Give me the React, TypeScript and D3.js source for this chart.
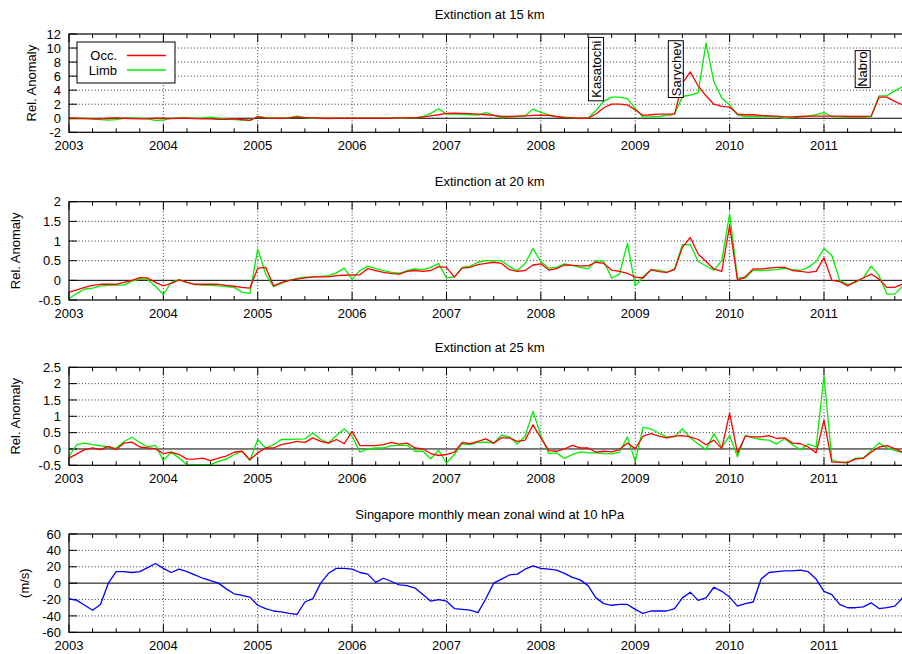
import React from 'react';
import * as d3 from 'd3';

const W = 902;
const H = 654;
const FONT = "'Liberation Sans', Arial, Helvetica, sans-serif";

const startYear = 2003;
const nMonths = 107;
const months = d3.range(nMonths).map((i) => startYear + i / 12);
const yearTicks = d3.range(2003, 2012);
const quarterTicks = d3.range(0, 36).map((i) => 2003 + i / 4).filter((v) => v % 1 !== 0);

// Extinction at 15 km
const occ15 = [0, 0, -0.05, -0.1, -0.1, 0, 0.05, 0, -0.05, -0.1, -0.05, 0, 0, -0.05, 0, 0, -0.05, -0.1, -0.1, -0.15, -0.15, -0.1, -0.2, -0.3, 0.2, 0.05, 0, 0, 0.05, 0.15,
  0.1, 0.05, 0, 0, 0, 0, 0, 0, 0, 0, 0, 0, 0.05, 0.05, 0.05,
  0.15, 0.35, 0.5, 0.7, 0.72, 0.7, 0.65, 0.6, 0.5, 0.4, 0.25, 0.25, 0.3, 0.35, 0.4, 0.45, 0.4, 0.25, 0.1, 0.05, 0, 0,
  0.6, 1.5, 2.0, 2.0, 1.9, 1.2, 0.4, 0.5, 0.6, 0.6, 0.6, 5.0, 6.6, 4.6, 3.2, 2.0, 1.7, 1.6, 0.6, 0.5,
  0.5, 0.4, 0.35, 0.3, 0.2, 0.2, 0.25, 0.3, 0.3, 0.3, 0.3, 0.3, 0.25, 0.25, 0.25, 0.3, 3.0, 3.0, 2.4, 1.9];
const limb15 = [-0.1, -0.1, 0, -0.1, -0.2, -0.25, -0.2, 0, 0.05, 0, -0.1, -0.3, -0.25, 0, 0, 0.05, 0, 0.05, 0.15, 0, -0.1, -0.2, -0.25, -0.3, 0.25, 0.1, 0.05, 0, 0.1, 0.3,
  0.1, 0, 0, -0.05, 0, 0, 0, 0, 0, 0, 0, 0, 0, 0.05, 0.05,
  0.25, 0.7, 1.33, 0.6, 0.6, 0.57, 0.5, 0.45, 0.8, 0.45, 0.05, 0.2, 0.25, 0.35, 1.3, 0.85, 0.5, 0.2, 0.15, 0.1, 0, 0,
  1.1, 2.4, 3.0, 3.0, 2.8, 1.4, 0.15, 0.2, 0.25, 0.4, 0.6, 3.1, 3.3, 3.6, 10.7, 5.2, 2.9, 1.9, 0.5, 0.25,
  0.25, 0.25, 0.25, 0.2, 0, 0.1, 0.2, 0.3, 0.5, 0.8, 0.25, 0.15, 0.15, 0.15, 0.15, 0.25, 3.2, 3.2, 3.9, 4.5];

// Extinction at 20 km
const occ20 = [-0.3, -0.24, -0.18, -0.13, -0.1, -0.1, -0.1, -0.05, 0, 0.07, 0.06, -0.05, -0.14, -0.08, 0.01, -0.05, -0.1, -0.1, -0.1, -0.1, -0.13, -0.15, -0.18, -0.2, 0.31, 0.33, -0.14, -0.06, 0, 0.03,
  0.06, 0.09, 0.09, 0.09, 0.12, 0.13, 0.14, 0.14, 0.3, 0.25, 0.2, 0.17, 0.16, 0.23, 0.25, 0.23, 0.25, 0.35, 0.33, 0.08, 0.31, 0.33, 0.4, 0.43, 0.46, 0.43, 0.27, 0.23, 0.25, 0.39,
  0.42, 0.26, 0.3, 0.39, 0.38, 0.37, 0.37, 0.46, 0.43, 0.26, 0.23, 0.18, 0.08, 0.06, 0.27, 0.22, 0.2, 0.27, 0.84, 1.09, 0.67, 0.48, 0.29, 0.23, 1.39, 0.0, 0.09, 0.29, 0.29, 0.31,
  0.33, 0.33, 0.25, 0.23, 0.2, 0.23, 0.57, 0.0, -0.03, -0.14, -0.03, 0.06, 0.16, 0.03, -0.18, -0.18, -0.09];
const limb20 = [-0.47, -0.33, -0.22, -0.2, -0.14, -0.13, -0.12, -0.12, -0.02, 0.03, 0.02, -0.15, -0.36, -0.05, 0.02, -0.05, -0.11, -0.12, -0.13, -0.14, -0.16, -0.18, -0.3, -0.33, 0.8, 0.16, -0.16, -0.08, 0, 0.05,
  0.08, 0.08, 0.1, 0.12, 0.19, 0.31, 0.03, 0.25, 0.36, 0.3, 0.25, 0.2, 0.18, 0.25, 0.29, 0.27, 0.33, 0.43, 0.06, 0.09, 0.33, 0.36, 0.46, 0.5, 0.5, 0.5, 0.35, 0.25, 0.43, 0.81,
  0.48, 0.31, 0.33, 0.42, 0.38, 0.33, 0.29, 0.5, 0.48, 0.06, 0.16, 0.94, -0.14, 0.09, 0.27, 0.26, 0.2, 0.29, 0.91, 0.91, 0.48, 0.37, 0.26, 0.5, 1.69, 0.06, 0.06, 0.26, 0.25, 0.26,
  0.27, 0.31, 0.27, 0.25, 0.33, 0.48, 0.81, 0.63, 0.0, -0.11, -0.05, 0.06, 0.36, 0.12, -0.35, -0.35, -0.15];

// Extinction at 25 km
const occ25 = [-0.28, -0.15, -0.02, 0.03, -0.02, 0.08, -0.02, 0.18, 0.21, 0.06, 0.03, 0.01, -0.14, -0.1, -0.17, -0.31, -0.31, -0.28, -0.36, -0.28, -0.22, -0.1, -0.07, -0.33, -0.12, 0.03, 0.03, 0.13, 0.18, 0.23,
  0.2, 0.34, 0.23, 0.18, 0.29, 0.16, 0.54, 0.1, 0.1, 0.1, 0.13, 0.2, 0.15, 0.18, 0.03, 0.0, -0.14, -0.2, -0.17, -0.1, 0.2, 0.16, 0.23, 0.31, 0.18, 0.34, 0.34, 0.23, 0.27, 0.74,
  0.34, -0.05, -0.07, 0.0, 0.11, 0.03, 0.03, -0.1, -0.07, -0.09, -0.02, 0.18, 0.01, 0.39, 0.47, 0.39, 0.34, 0.39, 0.41, 0.37, 0.29, 0.13, 0.27, 0.01, 1.1, -0.12, 0.39, 0.37, 0.37, 0.41,
  0.32, 0.34, 0.18, 0.16, 0.06, -0.12, 0.88, -0.4, -0.4, -0.41, -0.31, -0.28, -0.1, 0.06, 0.1, 0.01, -0.1];
const limb25 = [-0.22, 0.13, 0.18, 0.13, 0.1, 0.06, 0.02, 0.23, 0.36, 0.2, 0.06, 0.11, -0.35, -0.1, -0.28, -0.48, -0.49, -0.49, -0.48, -0.38, -0.31, -0.17, -0.07, -0.35, 0.29, 0.03, 0.13, 0.29, 0.29, 0.3,
  0.31, 0.49, 0.29, 0.18, 0.41, 0.61, 0.39, -0.1, 0.0, 0.03, 0.03, 0.1, 0.11, 0.11, -0.07, -0.07, -0.3, -0.04, -0.43, -0.17, 0.16, 0.13, 0.2, 0.21, 0.18, 0.42, 0.37, 0.15, 0.39, 1.15,
  0.41, -0.14, -0.12, -0.29, -0.17, -0.09, -0.12, -0.12, -0.14, -0.15, -0.1, 0.37, -0.38, 0.67, 0.61, 0.49, 0.37, 0.37, 0.62, 0.34, 0.15, -0.02, 0.47, 0.06, 0.41, -0.24, 0.41, 0.34, 0.29, 0.27,
  0.15, 0.32, 0.13, -0.02, 0.15, 0.06, 2.24, -0.33, -0.41, -0.43, -0.28, -0.28, -0.05, 0.18, 0.03, -0.04, -0.12];

// Singapore monthly mean zonal wind at 10 hPa (m/s)
const wind = [-19, -21, -27, -33, -26, 0, 14, 14, 13, 14, 19, 24, 18, 13, 17, 14, 10, 6, 3, 0, -7, -13, -15, -17, -27, -31, -34, -35, -37, -38,
  -23, -19, 0, 12, 18, 18, 17, 13, 11, 1, 6, 2, -2, -3, -6, -14, -22, -20, -22, -31, -32, -33, -36, -19, 0, 5, 10, 11, 17, 21,
  18, 17, 16, 12, 7, 4, -3, -18, -25, -27, -26, -26, -32, -37, -34, -34, -34, -31, -18, -11, -21, -18, -5, -10, -17, -28, -25, -23, 5, 13,
  14, 15, 15, 16, 14, 5, -10, -14, -26, -30, -30, -29, -24, -31, -30, -28, -18];

const ticks15 = [-2, 0, 2, 4, 6, 8, 10, 12];
const ticks20 = [-0.5, 0, 0.5, 1, 1.5, 2];
const ticks25 = [-0.5, 0, 0.5, 1, 1.5, 2, 2.5];
const ticksWind = [-60, -40, -20, 0, 20, 40, 60];

const volcanoNames = ['Kasatochi', 'Sarychev', 'Nabro'];
const volcanoTimes = [2008.585, 2009.43, 2011.41];

const legendNames = ['Occ.', 'Limb'];
const RED = '#ff0000';
const GREEN = '#00ee00';
const BLUE = '#0000ff';

const x = d3.scaleLinear().domain([startYear, startYear + nMonths / 12]).range([69, 910.5]);
const XL = 69;
const XR = 910.5;

type Series = { values: number[]; color: string };
type PanelProps = {
  id: string;
  top: number;
  bottom: number;
  ticks: number[];
  title: string;
  ylabel: string;
  ylabelX: number;
  series: Series[];
  children?: React.ReactNode;
};

function Panel({ id, top, bottom, ticks, title, ylabel, ylabelX, series, children }: PanelProps) {
  const y = d3.scaleLinear().domain([ticks[0], ticks[ticks.length - 1]]).range([bottom, top]);
  const line = d3.line<number>().x((_, i) => x(months[i])).y((d) => y(d));
  const midY = (top + bottom) / 2;
  return (
    <g>
      <defs>
        <clipPath id={`clip-${id}`}>
          <rect x={XL} y={top} width={XR - XL} height={bottom - top} />
        </clipPath>
      </defs>
      <text x={(XL + XR) / 2} y={top - 15.5} textAnchor="middle" fontSize={13} fontFamily={FONT} fill="#000">{title}</text>
      {/* grid */}
      {ticks.filter((t) => t !== 0 && t !== ticks[0] && t !== ticks[ticks.length - 1]).map((t) => (
        <line key={`gy${t}`} x1={XL} x2={XR} y1={y(t)} y2={y(t)} stroke="#333" strokeWidth={1} strokeDasharray="1,2.2" />
      ))}
      {yearTicks.filter((t) => t !== 2003).map((t) => (
        <line key={`gx${t}`} x1={x(t)} x2={x(t)} y1={top} y2={bottom} stroke="#333" strokeWidth={1} strokeDasharray="1,2.2" />
      ))}
      <line x1={XL} x2={XR} y1={y(0)} y2={y(0)} stroke="#000" strokeWidth={1} />
      {/* ticks */}
      {yearTicks.map((t) => (
        <g key={`tx${t}`}>
          <line x1={x(t)} x2={x(t)} y1={top} y2={top + 8} stroke="#000" />
          <line x1={x(t)} x2={x(t)} y1={bottom} y2={bottom - 8} stroke="#000" />
        </g>
      ))}
      {quarterTicks.map((t) => (
        <g key={`qx${t}`}>
          <line x1={x(t)} x2={x(t)} y1={top} y2={top + 4} stroke="#000" />
          <line x1={x(t)} x2={x(t)} y1={bottom} y2={bottom - 4} stroke="#000" />
        </g>
      ))}
      {ticks.map((t) => (
        <g key={`ty${t}`}>
          <line x1={XL} x2={XL + 8} y1={y(t)} y2={y(t)} stroke="#000" />
          <line x1={XR} x2={XR - 8} y1={y(t)} y2={y(t)} stroke="#000" />
          <text x={61} y={y(t)} dy="0.36em" textAnchor="end" fontSize={13} fontFamily={FONT} fill="#000">{String(t)}</text>
        </g>
      ))}
      {/* data */}
      <g clipPath={`url(#clip-${id})`}>
        {series.map((s, i) => (
          <path key={i} d={line(s.values) || ''} fill="none" stroke={s.color} strokeWidth={1.3} strokeLinejoin="round" />
        ))}
      </g>
      <rect x={XL} y={top} width={XR - XL} height={bottom - top} fill="none" stroke="#000" strokeWidth={1.2} />
      {yearTicks.map((t) => (
        <text key={`lx${t}`} x={x(t)} y={bottom + 18} textAnchor="middle" fontSize={13} fontFamily={FONT} fill="#000">{String(t)}</text>
      ))}
      <text transform={`translate(${ylabelX},${midY}) rotate(-90)`} dy="0.36em" textAnchor="middle" fontSize={13} fontFamily={FONT} fill="#000">{ylabel}</text>
      {children}
    </g>
  );
}

export default function App() {
  const y15 = d3.scaleLinear().domain([-2, 12]).range([132.3, 34]);
  const legendColors = [RED, GREEN];
  return (
    <svg width={W} height={H} style={{ position: 'absolute', left: 0, top: 0, background: '#fff' }} xmlns="http://www.w3.org/2000/svg">
      <rect x={0} y={0} width={W} height={H} fill="#fff" />
      <Panel id="p15" top={34} bottom={132.3} ticks={ticks15} title="Extinction at 15 km" ylabel="Rel. Anomaly" ylabelX={31}
        series={[{ values: limb15, color: GREEN }, { values: occ15, color: RED }]}>
        {volcanoNames.map((name, i) => {
          const cx = x(volcanoTimes[i]);
          const cy = y15(7);
          const len = name.length * 6.6 + 4;
          return (
            <g key={name}>
              <rect x={cx - 7.5} y={cy - len / 2} width={15} height={len} fill="#fff" stroke="#000" strokeWidth={1} />
              <text transform={`translate(${cx},${cy}) rotate(-90)`} dy="0.36em" textAnchor="middle" fontSize={13} fontFamily={FONT} fill="#000">{name}</text>
            </g>
          );
        })}
        <rect x={77} y={42} width={98} height={41} fill="#fff" stroke="#000" strokeWidth={1} />
        {legendNames.map((n, i) => (
          <g key={n}>
            <text x={117} y={55.5 + i * 14.5} dy="0.36em" textAnchor="end" fontSize={13} fontFamily={FONT} fill="#000">{n}</text>
            <line x1={127} x2={166} y1={55.5 + i * 14.5} y2={55.5 + i * 14.5} stroke={legendColors[i]} strokeWidth={1.3} />
          </g>
        ))}
      </Panel>
      <Panel id="p20" top={201.7} bottom={300} ticks={ticks20} title="Extinction at 20 km" ylabel="Rel. Anomaly" ylabelX={15}
        series={[{ values: limb20, color: GREEN }, { values: occ20, color: RED }]} />
      <Panel id="p25" top={367.3} bottom={465.3} ticks={ticks25} title="Extinction at 25 km" ylabel="Rel. Anomaly" ylabelX={15}
        series={[{ values: limb25, color: GREEN }, { values: occ25, color: RED }]} />
      <Panel id="pw" top={534} bottom={632.3} ticks={ticksWind} title="Singapore monthly mean zonal wind at 10 hPa" ylabel="(m/s)" ylabelX={24}
        series={[{ values: wind, color: BLUE }]} />
    </svg>
  );
}
